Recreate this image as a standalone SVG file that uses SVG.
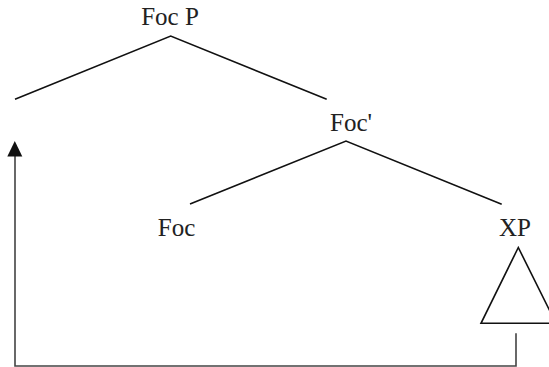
<svg xmlns="http://www.w3.org/2000/svg" width="549" height="367" viewBox="0 0 549 367">
<style>
.lbl{font-family:'Liberation Serif',serif;font-size:25px;fill:#222;text-anchor:middle}
.br{stroke:#111;stroke-width:1.6;fill:none}
.mv{stroke:#444;stroke-width:1.6;fill:none}
</style>
<rect width="549" height="367" fill="#fff"/>
<g id="FocP"><text class="lbl" x="170" y="25">Foc P</text></g>
<g id="FocBar"><text class="lbl" x="351" y="131">Foc'</text></g>
<g id="Foc"><text class="lbl" x="176.5" y="236">Foc</text></g>
<g id="XP"><text class="lbl" x="515" y="236">XP</text>
<polygon class="br" points="518.3,247.5 481,323.3 556,323.3" stroke-width="1.3"/></g>
<g id="connectors">
<polyline class="br" points="15,99.3 170.7,36 326.7,99.3"/>
<polyline class="br" points="190,204 346,141 501.7,204.3"/>
<path d="M516,333.3 V366 H15 V156" class="mv"/>
<path d="M7.3,156.5 L14.8,141 L22.3,156.5 Z" fill="#111"/>
</g>
</svg>
